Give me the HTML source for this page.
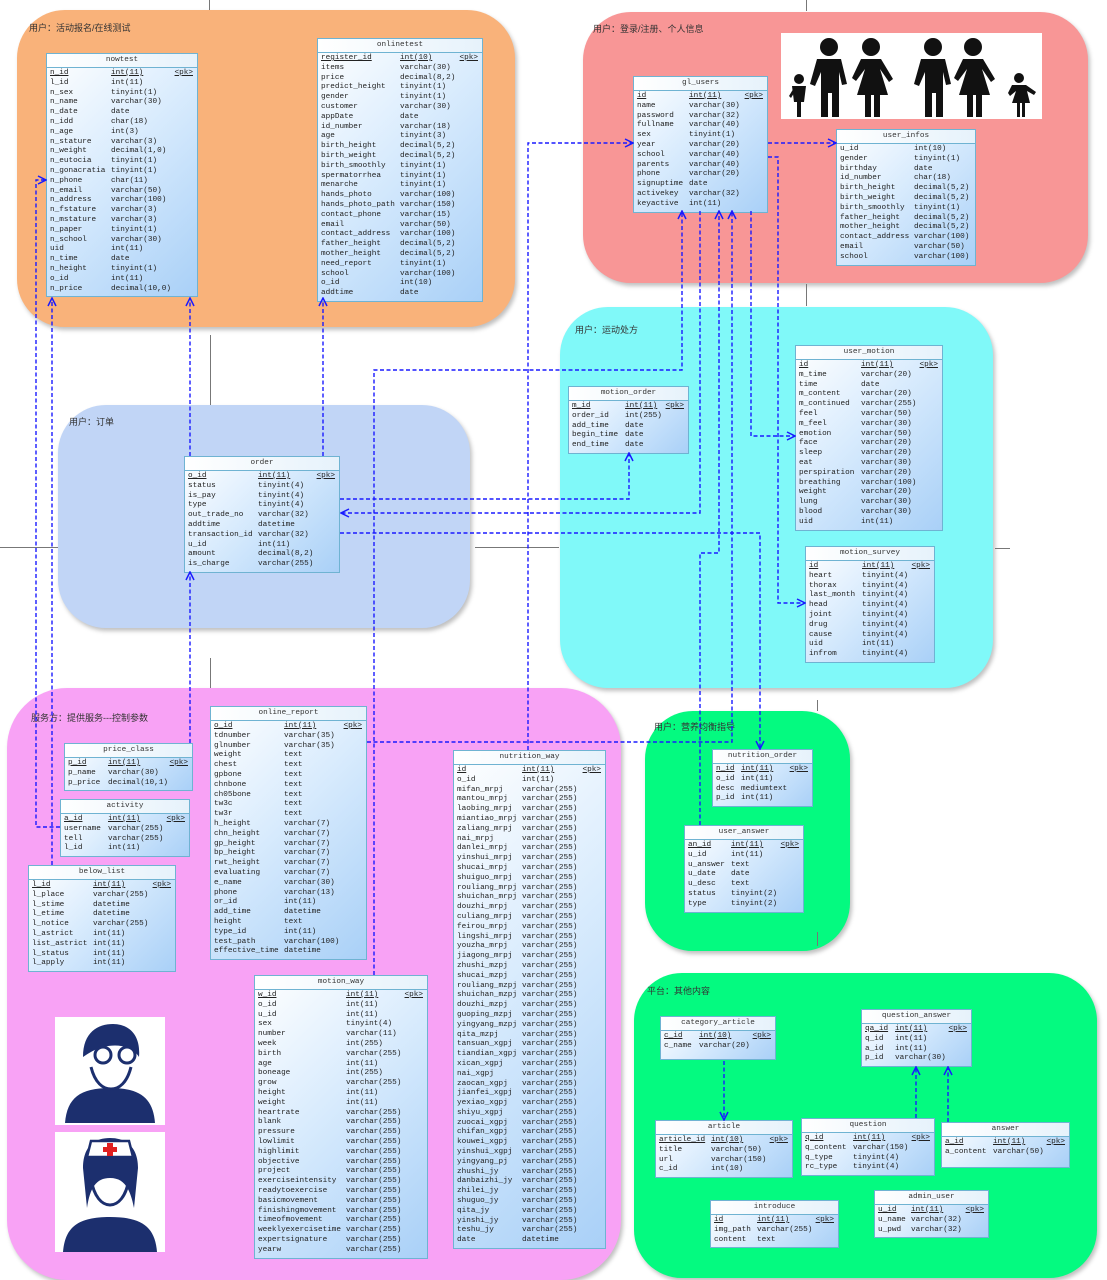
<!DOCTYPE html>
<html><head><meta charset="utf-8"><style>
body{margin:0;width:1107px;height:1280px;position:relative;background:#fff;overflow:hidden;font-family:"Liberation Mono","Noto Sans CJK SC",monospace}
.g{position:absolute;border-radius:48px;box-shadow:2px 3px 4px rgba(0,0,0,.25)}
.lb{position:absolute;font:9px "Liberation Sans","Noto Sans CJK SC",sans-serif;color:#333}
.t{position:absolute;border:1px solid #6fb3d2;background:linear-gradient(135deg,#ffffff 0%,#d8ebfd 45%,#a9d0f7 100%);font-size:7.7px;line-height:9.8px;color:#222;box-sizing:border-box}
.h{height:13px;line-height:13px;text-align:center;border-bottom:1px solid #6fb3d2;background:linear-gradient(90deg,#fff,#e6f2fb);color:#333}
.b{position:relative;padding:1px 0 2px 0}
.n{padding-left:3px;white-space:pre}
.y{position:absolute;top:1px;white-space:pre}
.k{position:absolute;top:1px;right:4px;text-decoration:underline}
.sep{position:absolute;background:#777}
svg{position:absolute;left:0;top:0}
#cn{z-index:5}
</style></head><body>

<div class="g" style="left:17px;top:10px;width:498px;height:317px;background:#f9b27a"></div>
<div class="g" style="left:583px;top:12px;width:505px;height:271px;background:#f89696"></div>
<div class="g" style="left:58px;top:405px;width:412px;height:223px;background:#c1d5f6"></div>
<div class="g" style="left:560px;top:307px;width:433px;height:381px;background:#80f9f9"></div>
<div class="g" style="left:7px;top:688px;width:614px;height:592px;background:#f8a2f5;border-radius:60px"></div>
<div class="g" style="left:645px;top:711px;width:205px;height:240px;background:#04fa80"></div>
<div class="g" style="left:634px;top:973px;width:463px;height:305px;background:#04fa80"></div>

<div class="sep" style="left:209px;top:0;width:1px;height:10px"></div>
<div class="sep" style="left:806px;top:0;width:1px;height:11px"></div>
<div class="sep" style="left:806px;top:284px;width:1px;height:22px"></div>
<div class="sep" style="left:210px;top:335px;width:1px;height:70px"></div>
<div class="sep" style="left:210px;top:658px;width:1px;height:30px"></div>
<div class="sep" style="left:0;top:547px;width:58px;height:1px"></div>
<div class="sep" style="left:475px;top:547px;width:84px;height:1px"></div>
<div class="sep" style="left:995px;top:548px;width:15px;height:1px"></div>
<div class="sep" style="left:817px;top:700px;width:1px;height:11px"></div>
<div class="sep" style="left:817px;top:932px;width:1px;height:14px"></div>

<div class="lb" style="left:29px;top:21px">用户：活动报名/在线测试</div>
<div class="lb" style="left:593px;top:22px">用户：登录/注册、个人信息</div>
<div class="lb" style="left:69px;top:415px">用户：订单</div>
<div class="lb" style="left:575px;top:323px">用户：运动处方</div>
<div class="lb" style="left:31px;top:711px">服务方：提供服务---控制参数</div>
<div class="lb" style="left:654px;top:720px">用户：营养均衡指导</div>
<div class="lb" style="left:647px;top:984px">平台：其他内容</div>

<svg style="left:781px;top:33px" width="261" height="86" viewBox="0 0 261 86">
<rect width="261" height="86" fill="#fff"/>
<g fill="#111">
<circle cx="18" cy="46" r="5"/><path d="M11 53h14l-2 16h-3v15h-4V69h-3z"/><path d="M8 63l6-10 2 2-6 10z"/>
<circle cx="48" cy="14" r="9"/><path d="M36 26h24l6 25-5 1-3-13v45h-7V60h-4v24h-7V39l-6 14-5-2z"/>
<circle cx="90" cy="14" r="9"/><path d="M80 26h20l12 20-4 3-9-13 8 26h-8v22h-6V62h-3v22h-6V62h-8l8-26-9 12-4-3z"/>
<circle cx="152" cy="14" r="9"/><path d="M140 26h24l6 25-5 1-3-13v45h-7V60h-4v24h-7V39l-6 14-5-2z"/>
<circle cx="192" cy="14" r="9"/><path d="M182 26h20l12 20-4 3-9-13 8 26h-8v22h-6V62h-3v22h-6V62h-8l8-26-9 12-4-3z"/>
<circle cx="238" cy="45" r="5"/><path d="M231 52h14l10 7-2 3-7-4 3 12h-5v14h-3V70h-2v14h-3V70h-5l4-12-6 5-2-3z"/>
</g></svg>

<svg style="left:55px;top:1017px" width="110" height="235" viewBox="0 0 110 235">
<rect width="110" height="108" fill="#fff"/>
<rect y="115" width="110" height="120" fill="#fff"/>
<g fill="#1c2f6e">
<path d="M28 40c0-25 15-33 30-33s28 10 26 33c-6-10-20-14-36-10-8 2-14 6-20 10z"/>
<path d="M10 106c2-25 15-35 45-35s43 10 45 35z"/>
<circle cx="72" cy="38" r="8" fill="none" stroke="#1c2f6e" stroke-width="3"/>
<circle cx="48" cy="38" r="8" fill="none" stroke="#1c2f6e" stroke-width="3"/>
<path d="M28 151c0-22 12-30 27-30s28 8 28 30l-4 40c-4-20-10-30-24-30s-20 10-23 30z"/>
<path d="M8 235c2-25 15-35 47-35s45 10 47 35z"/>
</g>
<path d="M36 50c4 16 12 22 20 22s16-6 20-22" fill="none" stroke="#1c2f6e" stroke-width="3"/>
<path d="M32 140h46l-4-16H36z" fill="#fff" stroke="#1c2f6e" stroke-width="2.5"/>
<path d="M52 126h6v4h4v5h-4v4h-6v-4h-4v-5h4z" fill="#e02020"/>
<path d="M36 162c3 18 11 26 19 26s16-8 19-26" fill="none" stroke="#1c2f6e" stroke-width="3"/>
</svg>

<svg id="cn" width="1107" height="1280" viewBox="0 0 1107 1280">
<defs><marker id="a" markerWidth="10" markerHeight="10" refX="9" refY="5" orient="auto" markerUnits="userSpaceOnUse"><path d="M1 1L9 5L1 9" fill="none" stroke="#1a1aff" stroke-width="1.5"/></marker></defs>
<g fill="none" stroke="#1a1aff" stroke-width="1.4" stroke-dasharray="4 2.5">
<path d="M60 827H36V180H46" marker-end="url(#a)"/>
<path d="M52 865V298" marker-end="url(#a)"/>
<path d="M190 456V298" marker-end="url(#a)"/>
<path d="M323 456V298" marker-end="url(#a)"/>
<path d="M190 743V572" marker-end="url(#a)"/>
<path d="M340 499H629V453" marker-end="url(#a)"/>
<path d="M700 211V513H341" marker-end="url(#a)"/>
<path d="M340 533H760V749" marker-end="url(#a)"/>
<path d="M374 975V370H682V211" marker-end="url(#a)"/>
<path d="M700 825V553H719V211" marker-end="url(#a)"/>
<path d="M367 742H732V211" marker-end="url(#a)"/>
<path d="M751 211V436H795" marker-end="url(#a)"/>
<path d="M768 157H778V603H805" marker-end="url(#a)"/>
<path d="M528 750V143H633" marker-end="url(#a)"/>
<path d="M768 143H836" marker-end="url(#a)"/>
<path d="M724 1061V1120" marker-end="url(#a)"/>
<path d="M916 1118V1067" marker-end="url(#a)"/>
<path d="M948 1122V1067" marker-end="url(#a)"/>
</g></svg>

<div class="t" style="left:46px;top:53px;width:152px"><div class="h">nowtest</div><div class="b"><div class="n"><u>n_id</u>
l_id
n_sex
n_name
n_date
n_idd
n_age
n_stature
n_weight
n_eutocia
n_gonacratia
n_phone
n_email
n_address
n_fstature
n_mstature
n_paper
n_school
uid
n_time
n_height
o_id
n_price</div><div class="y" style="left:64px"><u>int(11)</u>
int(11)
tinyint(1)
varchar(30)
date
char(18)
int(3)
varchar(3)
decimal(1,0)
tinyint(1)
tinyint(1)
char(11)
varchar(50)
varchar(100)
varchar(3)
varchar(3)
tinyint(1)
varchar(30)
int(11)
date
tinyint(1)
int(11)
decimal(10,0)</div><div class="k">&lt;pk&gt;</div></div></div>

<div class="t" style="left:317px;top:38px;width:166px"><div class="h">onlinetest</div><div class="b"><div class="n"><u>register_id</u>
items
price
predict_height
gender
customer
appDate
id_number
age
birth_height
birth_weight
birth_smoothly
spermatorrhea
menarche
hands_photo
hands_photo_path
contact_phone
email
contact_address
father_height
mother_height
need_report
school
o_id
addtime</div><div class="y" style="left:82px"><u>int(10)</u>
varchar(30)
decimal(8,2)
tinyint(1)
tinyint(1)
varchar(30)
date
varchar(18)
tinyint(3)
decimal(5,2)
decimal(5,2)
tinyint(1)
tinyint(1)
tinyint(1)
varchar(100)
varchar(150)
varchar(15)
varchar(50)
varchar(100)
decimal(5,2)
decimal(5,2)
tinyint(1)
varchar(100)
int(10)
date</div><div class="k">&lt;pk&gt;</div></div></div>

<div class="t" style="left:633px;top:76px;width:135px"><div class="h">gl_users</div><div class="b"><div class="n"><u>id</u>
name
password
fullname
sex
year
school
parents
phone
signuptime
activekey
keyactive</div><div class="y" style="left:55px"><u>int(11)</u>
varchar(30)
varchar(32)
varchar(40)
tinyint(1)
varchar(20)
varchar(40)
varchar(40)
varchar(20)
date
varchar(32)
int(11)</div><div class="k">&lt;pk&gt;</div></div></div>

<div class="t" style="left:836px;top:129px;width:140px"><div class="h">user_infos</div><div class="b"><div class="n">u_id
gender
birthday
id_number
birth_height
birth_weight
birth_smoothly
father_height
mother_height
contact_address
email
school</div><div class="y" style="left:77px">int(10)
tinyint(1)
date
char(18)
decimal(5,2)
decimal(5,2)
tinyint(1)
decimal(5,2)
decimal(5,2)
varchar(100)
varchar(50)
varchar(100)</div></div></div>

<div class="t" style="left:184px;top:456px;width:156px"><div class="h">order</div><div class="b"><div class="n"><u>o_id</u>
status
is_pay
type
out_trade_no
addtime
transaction_id
u_id
amount
is_charge</div><div class="y" style="left:73px"><u>int(11)</u>
tinyint(4)
tinyint(4)
tinyint(4)
varchar(32)
datetime
varchar(32)
int(11)
decimal(8,2)
varchar(255)</div><div class="k">&lt;pk&gt;</div></div></div>

<div class="t" style="left:568px;top:386px;width:121px"><div class="h">motion_order</div><div class="b"><div class="n"><u>m_id</u>
order_id
add_time
begin_time
end_time</div><div class="y" style="left:56px"><u>int(11)</u>
int(255)
date
date
date</div><div class="k">&lt;pk&gt;</div></div></div>

<div class="t" style="left:795px;top:345px;width:148px"><div class="h">user_motion</div><div class="b"><div class="n"><u>id</u>
m_time
time
m_content
m_continued
feel
m_feel
emotion
face
sleep
eat
perspiration
breathing
weight
lung
blood
uid</div><div class="y" style="left:65px"><u>int(11)</u>
varchar(20)
date
varchar(20)
varchar(255)
varchar(50)
varchar(30)
varchar(50)
varchar(20)
varchar(20)
varchar(30)
varchar(20)
varchar(100)
varchar(20)
varchar(30)
varchar(30)
int(11)</div><div class="k">&lt;pk&gt;</div></div></div>

<div class="t" style="left:805px;top:546px;width:130px"><div class="h">motion_survey</div><div class="b"><div class="n"><u>id</u>
heart
thorax
last_month
head
joint
drug
cause
uid
infrom</div><div class="y" style="left:56px"><u>int(11)</u>
tinyint(4)
tinyint(4)
tinyint(4)
tinyint(4)
tinyint(4)
tinyint(4)
tinyint(4)
int(11)
tinyint(4)</div><div class="k">&lt;pk&gt;</div></div></div>

<div class="t" style="left:64px;top:743px;width:129px"><div class="h">price_class</div><div class="b"><div class="n"><u>p_id</u>
p_name
p_price</div><div class="y" style="left:43px"><u>int(11)</u>
varchar(30)
decimal(10,1)</div><div class="k">&lt;pk&gt;</div></div></div>

<div class="t" style="left:60px;top:799px;width:130px"><div class="h">activity</div><div class="b"><div class="n"><u>a_id</u>
username
tell
l_id</div><div class="y" style="left:47px"><u>int(11)</u>
varchar(255)
varchar(255)
int(11)</div><div class="k">&lt;pk&gt;</div></div></div>

<div class="t" style="left:28px;top:865px;width:148px"><div class="h">below_list</div><div class="b"><div class="n"><u>l_id</u>
l_place
l_stime
l_etime
l_notice
l_astrict
list_astrict
l_status
l_apply</div><div class="y" style="left:64px"><u>int(11)</u>
varchar(255)
datetime
datetime
varchar(255)
int(11)
int(11)
int(11)
int(11)</div><div class="k">&lt;pk&gt;</div></div></div>

<div class="t" style="left:210px;top:706px;width:157px"><div class="h">online_report</div><div class="b"><div class="n"><u>o_id</u>
tdnumber
glnumber
weight
chest
gpbone
chnbone
ch05bone
tw3c
tw3r
h_height
chn_height
gp_height
bp_height
rwt_height
evaluating
e_name
phone
or_id
add_time
height
type_id
test_path
effective_time</div><div class="y" style="left:73px"><u>int(11)</u>
varchar(35)
varchar(35)
text
text
text
text
text
text
text
varchar(7)
varchar(7)
varchar(7)
varchar(7)
varchar(7)
varchar(7)
varchar(30)
varchar(13)
int(11)
datetime
text
int(11)
varchar(100)
datetime</div><div class="k">&lt;pk&gt;</div></div></div>

<div class="t" style="left:453px;top:750px;width:153px"><div class="h">nutrition_way</div><div class="b"><div class="n"><u>id</u>
o_id
mifan_mrpj
mantou_mrpj
laobing_mrpj
miantiao_mrpj
zaliang_mrpj
nai_mrpj
danlei_mrpj
yinshui_mrpj
shucai_mrpj
shuiguo_mrpj
rouliang_mrpj
shuichan_mrpj
douzhi_mrpj
culiang_mrpj
feirou_mrpj
lingshi_mrpj
youzha_mrpj
jiagong_mrpj
zhushi_mzpj
shucai_mzpj
rouliang_mzpj
shuichan_mzpj
douzhi_mzpj
guoping_mzpj
yingyang_mzpj
qita_mzpj
tansuan_xgpj
tiandian_xgpj
xican_xgpj
nai_xgpj
zaocan_xgpj
jianfei_xgpj
yexiao_xgpj
shiyu_xgpj
zuocai_xgpj
chifan_xgpj
kouwei_xgpj
yinshui_xgpj
yingyang_pj
zhushi_jy
danbaizhi_jy
zhilei_jy
shuguo_jy
qita_jy
yinshi_jy
teshu_jy
date</div><div class="y" style="left:68px"><u>int(11)</u>
int(11)
varchar(255)
varchar(255)
varchar(255)
varchar(255)
varchar(255)
varchar(255)
varchar(255)
varchar(255)
varchar(255)
varchar(255)
varchar(255)
varchar(255)
varchar(255)
varchar(255)
varchar(255)
varchar(255)
varchar(255)
varchar(255)
varchar(255)
varchar(255)
varchar(255)
varchar(255)
varchar(255)
varchar(255)
varchar(255)
varchar(255)
varchar(255)
varchar(255)
varchar(255)
varchar(255)
varchar(255)
varchar(255)
varchar(255)
varchar(255)
varchar(255)
varchar(255)
varchar(255)
varchar(255)
varchar(255)
varchar(255)
varchar(255)
varchar(255)
varchar(255)
varchar(255)
varchar(255)
varchar(255)
datetime</div><div class="k">&lt;pk&gt;</div></div></div>

<div class="t" style="left:254px;top:975px;width:174px"><div class="h">motion_way</div><div class="b"><div class="n"><u>w_id</u>
o_id
u_id
sex
number
week
birth
age
boneage
grow
height
weight
heartrate
blank
pressure
lowlimit
highlimit
objective
project
exerciseintensity
readytoexercise
basicmovement
finishingmovement
timeofmovement
weeklyexercisetime
expertsignature
yearw</div><div class="y" style="left:91px"><u>int(11)</u>
int(11)
int(11)
tinyint(4)
varchar(11)
int(255)
varchar(255)
int(11)
int(255)
varchar(255)
int(11)
int(11)
varchar(255)
varchar(255)
varchar(255)
varchar(255)
varchar(255)
varchar(255)
varchar(255)
varchar(255)
varchar(255)
varchar(255)
varchar(255)
varchar(255)
varchar(255)
varchar(255)
varchar(255)</div><div class="k">&lt;pk&gt;</div></div></div>

<div class="t" style="left:712px;top:749px;width:101px"><div class="h">nutrition_order</div><div class="b"><div class="n"><u>n_id</u>
o_id
desc
p_id</div><div class="y" style="left:28px"><u>int(11)</u>
int(11)
mediumtext
int(11)</div><div class="k">&lt;pk&gt;</div></div></div>

<div class="t" style="left:684px;top:825px;width:120px"><div class="h">user_answer</div><div class="b"><div class="n"><u>an_id</u>
u_id
u_answer
u_date
u_desc
status
type</div><div class="y" style="left:46px"><u>int(11)</u>
int(11)
text
date
text
tinyint(2)
tinyint(2)</div><div class="k">&lt;pk&gt;</div></div></div>

<div class="t" style="left:660px;top:1016px;width:116px;height:44px"><div class="h">category_article</div><div class="b"><div class="n"><u>c_id</u>
c_name</div><div class="y" style="left:38px"><u>int(10)</u>
varchar(20)</div><div class="k">&lt;pk&gt;</div></div></div>

<div class="t" style="left:861px;top:1009px;width:111px"><div class="h">question_answer</div><div class="b"><div class="n"><u>qa_id</u>
q_id
a_id
p_id</div><div class="y" style="left:33px"><u>int(11)</u>
int(11)
int(11)
varchar(30)</div><div class="k">&lt;pk&gt;</div></div></div>

<div class="t" style="left:655px;top:1120px;width:138px"><div class="h">article</div><div class="b"><div class="n"><u>article_id</u>
title
url
c_id</div><div class="y" style="left:55px"><u>int(10)</u>
varchar(50)
varchar(150)
int(10)</div><div class="k">&lt;pk&gt;</div></div></div>

<div class="t" style="left:801px;top:1118px;width:134px"><div class="h">question</div><div class="b"><div class="n"><u>q_id</u>
q_content
q_type
rc_type</div><div class="y" style="left:51px"><u>int(11)</u>
varchar(150)
tinyint(4)
tinyint(4)</div><div class="k">&lt;pk&gt;</div></div></div>

<div class="t" style="left:941px;top:1122px;width:129px;height:46px"><div class="h">answer</div><div class="b"><div class="n"><u>a_id</u>
a_content</div><div class="y" style="left:51px"><u>int(11)</u>
varchar(50)</div><div class="k">&lt;pk&gt;</div></div></div>

<div class="t" style="left:710px;top:1200px;width:129px"><div class="h">introduce</div><div class="b"><div class="n"><u>id</u>
img_path
content</div><div class="y" style="left:46px"><u>int(11)</u>
varchar(255)
text</div><div class="k">&lt;pk&gt;</div></div></div>

<div class="t" style="left:874px;top:1190px;width:115px"><div class="h">admin_user</div><div class="b"><div class="n"><u>u_id</u>
u_name
u_pwd</div><div class="y" style="left:36px"><u>int(11)</u>
varchar(32)
varchar(32)</div><div class="k">&lt;pk&gt;</div></div></div>

</body></html>
